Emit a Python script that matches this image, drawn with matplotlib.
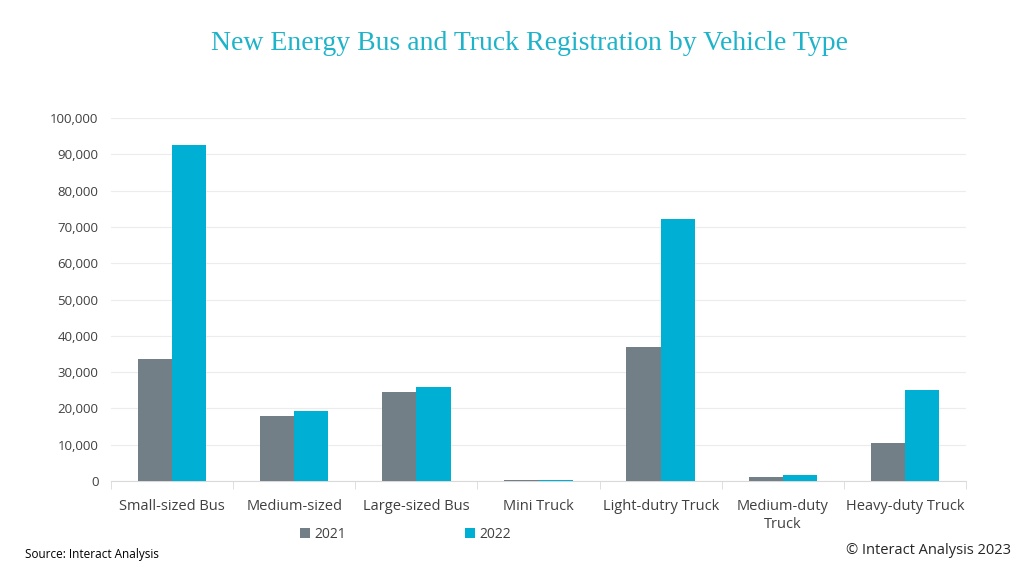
import numpy as np
import matplotlib
matplotlib.use("Agg")
from matplotlib import pyplot as plt
from matplotlib.ticker import FuncFormatter, FixedLocator

categories = ["Small-sized Bus", "Medium-sized", "Large-sized Bus", "Mini Truck",
              "Light-dutry Truck", "Medium-duty\nTruck", "Heavy-duty Truck"]
reg_2021 = [33600, 17900, 24600, 300, 36900, 1200, 10500]
reg_2022 = [92700, 19300, 25900, 400, 72200, 1700, 25000]
series_names = ["2021", "2022"]

grey = "#737f87"
cyan = "#00afd4"
plt.rcParams["font.family"] = ["Open Sans", "DejaVu Sans"]

fig = plt.figure(figsize=(10.24, 5.76), dpi=100)
ax = fig.add_axes([0.1084, 0.165, 0.835, 0.63])

x = np.arange(len(categories))
w = 0.28
ax.bar(x - w / 2, reg_2021, w, color=grey, label=series_names[0], zorder=3)
ax.bar(x + w / 2, reg_2022, w, color=cyan, label=series_names[1], zorder=3)

ax.set_xlim(-0.5, len(categories) - 0.5)
ax.set_ylim(0, 100000)
ax.set_yticks(np.arange(0, 100001, 10000))
ax.yaxis.set_major_formatter(FuncFormatter(lambda v, p: f"{int(v):,}"))
ax.grid(axis="y", color="#ececec", linewidth=0.8, zorder=0)

ax.set_xticks(x)
ax.set_xticklabels(categories, fontsize=10.5, color="#404040", linespacing=1.25)
ax.tick_params(axis="x", length=0, pad=13)
ax.xaxis.set_minor_locator(FixedLocator(np.arange(-0.5, len(categories), 1.0)))
ax.tick_params(axis="x", which="minor", length=6, color="#d9d9d9")
ax.tick_params(axis="y", length=0, labelsize=9.5, labelcolor="#404040", pad=9)

for s in ["top", "right", "left"]:
    ax.spines[s].set_visible(False)
ax.spines["bottom"].set_color("#d9d9d9")

fig.text(0.517, 0.925, "New Energy Bus and Truck Registration by Vehicle Type",
         ha="center", va="center", fontsize=20, color="#1fb3c9",
         family=["Liberation Serif", "DejaVu Serif"])

ax.legend(loc="center", bbox_to_anchor=(0.396, 0.072), bbox_transform=fig.transFigure,
          ncol=2, frameon=False, fontsize=10, handlelength=0.7, handleheight=0.7,
          handletextpad=0.3, columnspacing=8.6, labelcolor="#404040")

fig.text(0.024, 0.037, "Source: Interact Analysis", fontsize=8.5, color="#000000", va="center")
fig.text(0.987, 0.045, "\u00a9 Interact Analysis 2023", fontsize=10.5, color="#262626",
         ha="right", va="center")

fig.savefig("out.png", dpi=100, facecolor="white")
